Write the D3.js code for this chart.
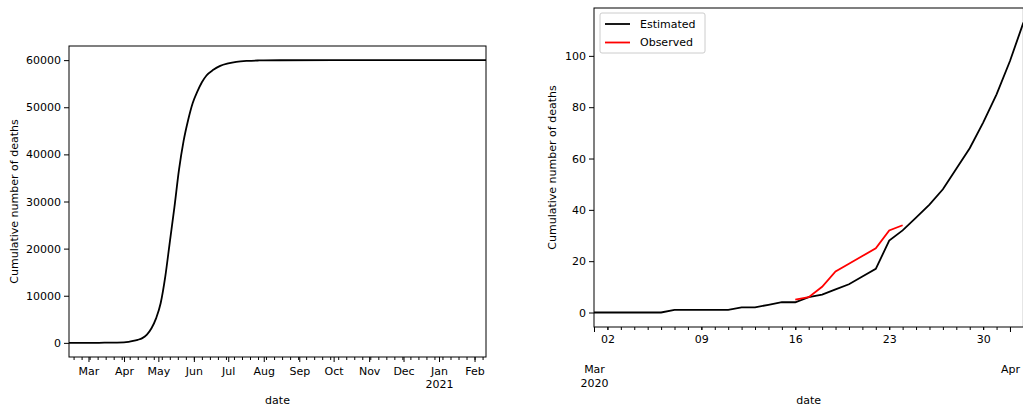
<!DOCTYPE html>
<html>
<head>
<meta charset="utf-8">
<script src="https://cdn.jsdelivr.net/npm/d3@7"></script>
<style>
  body { margin: 0; background: #fff; }
  svg { display: block; font-family: "DejaVu Sans", sans-serif; }
</style>
</head>
<body>
<script>
// left panel: full estimated curve
const longDates = ['2020-02-13', '2020-03-01', '2020-03-15', '2020-04-01', '2020-04-05', '2020-04-09',
  '2020-04-13', '2020-04-17', '2020-04-21', '2020-04-25', '2020-04-29', '2020-05-03', '2020-05-07',
  '2020-05-11', '2020-05-15', '2020-05-19', '2020-05-23', '2020-05-27', '2020-05-31', '2020-06-04',
  '2020-06-08', '2020-06-12', '2020-06-18', '2020-06-24', '2020-07-01', '2020-07-08', '2020-07-18',
  '2020-07-28', '2020-08-15', '2020-10-01', '2021-02-11'];
const longDeaths = [0, 5, 30, 120, 220, 400,
  650, 1000, 1750, 3100, 5200, 8400, 14000,
  21400, 28750, 36700, 42800, 47300, 50900, 53300,
  55300, 56750, 57950, 58780, 59300, 59640, 59850,
  59930, 59980, 60000, 60000];

// right panel: first month, estimated vs observed
const shortStart = '2020-03-01';
const estimated = [0, 0, 0, 0, 0, 0, 1, 1, 1, 1, 1, 2, 2, 3, 4, 4, 6, 7, 9, 11, 14, 17,
  28, 32, 37, 42, 48, 56, 64, 74, 85, 98, 113];
const obsStart = '2020-03-16';
const observed = [5, 6, 10, 16, 19, 22, 25, 32, 34];

const seriesNames = ['Estimated', 'Observed'];
const seriesColors = ['#000000', '#ff0000'];
const yLabel = 'Cumulative number of deaths';
const xLabel = 'date';

const parse = d3.timeParse('%Y-%m-%d');
const fontSize = 11;

const svg = d3.select('body').append('svg')
  .attr('width', 1023)
  .attr('height', 411);

// helper to pad a domain like matplotlib does (5%)
function padded(vals) {
  const lo = d3.min(vals);
  const hi = d3.max(vals);
  const p = (hi - lo) * 0.05;
  return [lo - p, hi + p];
}

function styleAxis(sel) {
  sel.select('.domain').remove();
  sel.selectAll('.tick line').attr('stroke', '#000').attr('stroke-width', 1);
  sel.selectAll('.tick text')
    .attr('fill', '#000')
    .attr('font-size', fontSize)
    .attr('font-family', '"DejaVu Sans", sans-serif');
}

// ---------- left panel ----------
const L = { left: 69, right: 486, top: 46, bottom: 357 };
const longData = longDates.map((d, i) => ({ date: parse(d), value: longDeaths[i] }));

const xL = d3.scaleTime()
  .domain(d3.extent(longData, d => d.date))
  .range([L.left, L.right]);
const yL = d3.scaleLinear()
  .domain(padded(longDeaths))
  .range([L.bottom, L.top]);

const gL = svg.append('g');

// minor ticks on mondays
const mondays = d3.timeMonday.range(xL.domain()[0], xL.domain()[1]);
gL.append('g')
  .attr('transform', `translate(0,${L.bottom})`)
  .call(d3.axisBottom(xL).tickValues(mondays).tickSize(3).tickFormat(''))
  .call(styleAxis);

// major ticks on month starts
const months = d3.timeMonth.range(d3.timeMonth.ceil(xL.domain()[0]), xL.domain()[1]);
const gxL = gL.append('g')
  .attr('transform', `translate(0,${L.bottom})`)
  .call(d3.axisBottom(xL).tickValues(months).tickSize(5).tickPadding(5)
    .tickFormat(d3.timeFormat('%b')))
  .call(styleAxis);
gxL.selectAll('.tick text').each(function (d) {
  if (d.getMonth() === 0) {
    d3.select(this).append('tspan')
      .attr('x', 0)
      .attr('dy', '1.2em')
      .text(d3.timeFormat('%Y')(d));
  }
});

gL.append('g')
  .attr('transform', `translate(${L.left},0)`)
  .call(d3.axisLeft(yL).tickValues([0, 10000, 20000, 30000, 40000, 50000, 60000])
    .tickSize(5).tickPadding(3).tickFormat(d3.format('d')))
  .call(styleAxis);

gL.append('path')
  .datum(longData)
  .attr('fill', 'none')
  .attr('stroke', seriesColors[0])
  .attr('stroke-width', 1.8)
  .attr('d', d3.line()
    .x(d => xL(d.date))
    .y(d => yL(d.value))
    .curve(d3.curveMonotoneX));

gL.append('rect')
  .attr('x', L.left).attr('y', L.top)
  .attr('width', L.right - L.left).attr('height', L.bottom - L.top)
  .attr('fill', 'none').attr('stroke', '#000').attr('stroke-width', 1);

gL.append('text')
  .attr('x', (L.left + L.right) / 2).attr('y', 404)
  .attr('text-anchor', 'middle').attr('font-size', fontSize)
  .text(xLabel);
gL.append('text')
  .attr('transform', `translate(14,${(L.top + L.bottom) / 2}) rotate(-90)`)
  .attr('text-anchor', 'middle').attr('dominant-baseline', 'central')
  .attr('font-size', fontSize)
  .text(yLabel);

// ---------- right panel ----------
const R = { left: 594, right: 1023.4, top: 8, bottom: 327 };
const s0 = parse(shortStart);
const o0 = parse(obsStart);
const estData = estimated.map((v, i) => ({ date: d3.timeDay.offset(s0, i), value: v }));
const obsData = observed.map((v, i) => ({ date: d3.timeDay.offset(o0, i), value: v }));

const xR = d3.scaleTime()
  .domain(d3.extent(estData, d => d.date))
  .range([R.left, R.right]);
const yR = d3.scaleLinear()
  .domain(padded(estimated))
  .range([R.bottom, R.top]);

const gR = svg.append('g');

// daily minor ticks
const days = d3.timeDay.range(xR.domain()[0], d3.timeDay.offset(xR.domain()[1], 1));
gR.append('g')
  .attr('transform', `translate(0,${R.bottom})`)
  .call(d3.axisBottom(xR).tickValues(days).tickSize(3).tickFormat(''))
  .call(styleAxis);

// week labels (%d) on mondays
const weekStarts = d3.timeMonday.range(xR.domain()[0], xR.domain()[1]);
gR.append('g')
  .attr('transform', `translate(0,${R.bottom})`)
  .call(d3.axisBottom(xR).tickValues(weekStarts).tickSize(3).tickPadding(5.5)
    .tickFormat(d3.timeFormat('%d')))
  .call(styleAxis);

// month labels, first one with the year
const monthStarts = d3.timeMonth.range(xR.domain()[0], d3.timeDay.offset(xR.domain()[1], 1));
const gxR = gR.append('g')
  .attr('transform', `translate(0,${R.bottom})`)
  .call(d3.axisBottom(xR).tickValues(monthStarts).tickSize(5).tickPadding(33.5)
    .tickFormat(d3.timeFormat('%b')))
  .call(styleAxis);
gxR.selectAll('.tick text').each(function (d, i) {
  if (i === 0) {
    d3.select(this).append('tspan')
      .attr('x', 0)
      .attr('dy', '1.2em')
      .text(d3.timeFormat('%Y')(d));
  }
});

gR.append('g')
  .attr('transform', `translate(${R.left},0)`)
  .call(d3.axisLeft(yR).tickValues([0, 20, 40, 60, 80, 100])
    .tickSize(5).tickPadding(3))
  .call(styleAxis);

const lineR = d3.line().x(d => xR(d.date)).y(d => yR(d.value));
gR.append('path')
  .datum(estData)
  .attr('fill', 'none').attr('stroke', seriesColors[0]).attr('stroke-width', 1.8)
  .attr('d', lineR);
gR.append('path')
  .datum(obsData)
  .attr('fill', 'none').attr('stroke', seriesColors[1]).attr('stroke-width', 1.8)
  .attr('d', lineR);

gR.append('rect')
  .attr('x', R.left).attr('y', R.top)
  .attr('width', R.right - R.left).attr('height', R.bottom - R.top)
  .attr('fill', 'none').attr('stroke', '#000').attr('stroke-width', 1);

gR.append('text')
  .attr('x', (R.left + R.right) / 2).attr('y', 403.5)
  .attr('text-anchor', 'middle').attr('font-size', fontSize)
  .text(xLabel);
gR.append('text')
  .attr('transform', `translate(552,${(R.top + R.bottom) / 2}) rotate(-90)`)
  .attr('text-anchor', 'middle').attr('dominant-baseline', 'central')
  .attr('font-size', fontSize)
  .text(yLabel);

// legend
const legend = gR.append('g').attr('transform', 'translate(600,13)');
legend.append('rect')
  .attr('width', 105).attr('height', 40).attr('rx', 2)
  .attr('fill', '#fff').attr('fill-opacity', 0.8)
  .attr('stroke', '#cccccc').attr('stroke-width', 1);
seriesNames.forEach((name, i) => {
  const row = legend.append('g').attr('transform', `translate(0,${11 + i * 18.5})`);
  row.append('line')
    .attr('x1', 5).attr('x2', 30)
    .attr('stroke', seriesColors[i]).attr('stroke-width', 1.8);
  row.append('text')
    .attr('x', 40).attr('dy', '0.35em')
    .attr('font-size', fontSize)
    .text(name);
});
</script>
</body>
</html>
